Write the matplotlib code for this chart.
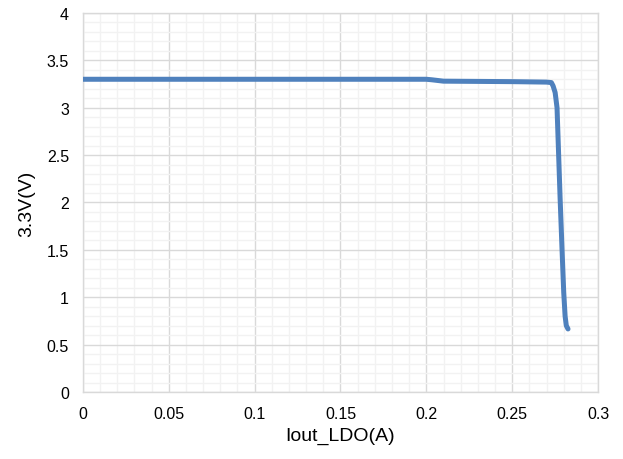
import numpy as np
from matplotlib import pyplot as plt
from matplotlib.ticker import MultipleLocator

# Output current (A) vs 3.3V rail voltage (V)
iout = [0.0, 0.05, 0.10, 0.15, 0.20, 0.203, 0.21, 0.25, 0.270, 0.2728,
        0.2738, 0.2750, 0.2761, 0.2779, 0.2790, 0.2800, 0.2808, 0.2815, 0.2825]
vout = [3.30, 3.30, 3.30, 3.30, 3.30, 3.295, 3.28, 3.275, 3.27, 3.265,
        3.23, 3.16, 3.00, 2.04, 1.51, 1.05, 0.80, 0.70, 0.665]

x_major = [0, 0.05, 0.1, 0.15, 0.2, 0.25, 0.3]
x_labels = ['0', '0.05', '0.1', '0.15', '0.2', '0.25', '0.3']
y_major = [0, 0.5, 1, 1.5, 2, 2.5, 3, 3.5, 4]
y_labels = ['0', '0.5', '1', '1.5', '2', '2.5', '3', '3.5', '4']

plt.rcParams['font.family'] = ['Liberation Sans', 'DejaVu Sans']

fig = plt.figure(figsize=(6.23, 4.60), dpi=100)
ax = fig.add_axes([0.133, 0.1457, 0.827, 0.824])

ax.plot(iout, vout, color='#4f81bd', linewidth=3.6,
        solid_capstyle='round', solid_joinstyle='round', zorder=3)

ax.set_xlim(0, 0.3)
ax.set_ylim(0, 4)
ax.set_xticks(x_major)
ax.set_xticklabels(x_labels)
ax.set_yticks(y_major)
ax.set_yticklabels(y_labels)
ax.xaxis.set_minor_locator(MultipleLocator(0.01))
ax.yaxis.set_minor_locator(MultipleLocator(0.1))
ax.grid(which='major', color='#d9d9d9', linewidth=1.0)
ax.grid(which='minor', color='#f2f2f2', linewidth=1.0)
ax.set_axisbelow(True)
ax.tick_params(which='both', length=0, labelsize=11.5, colors='#000000')
ax.tick_params(axis='x', pad=10)
ax.tick_params(axis='y', pad=10)
for s in ax.spines.values():
    s.set_color('#d9d9d9')
    s.set_linewidth(1.0)

ax.set_xlabel('Iout_LDO(A)', fontsize=14, labelpad=4)
ax.set_ylabel('3.3V(V)', fontsize=14, labelpad=8)

fig.savefig('out.png', dpi=100)
